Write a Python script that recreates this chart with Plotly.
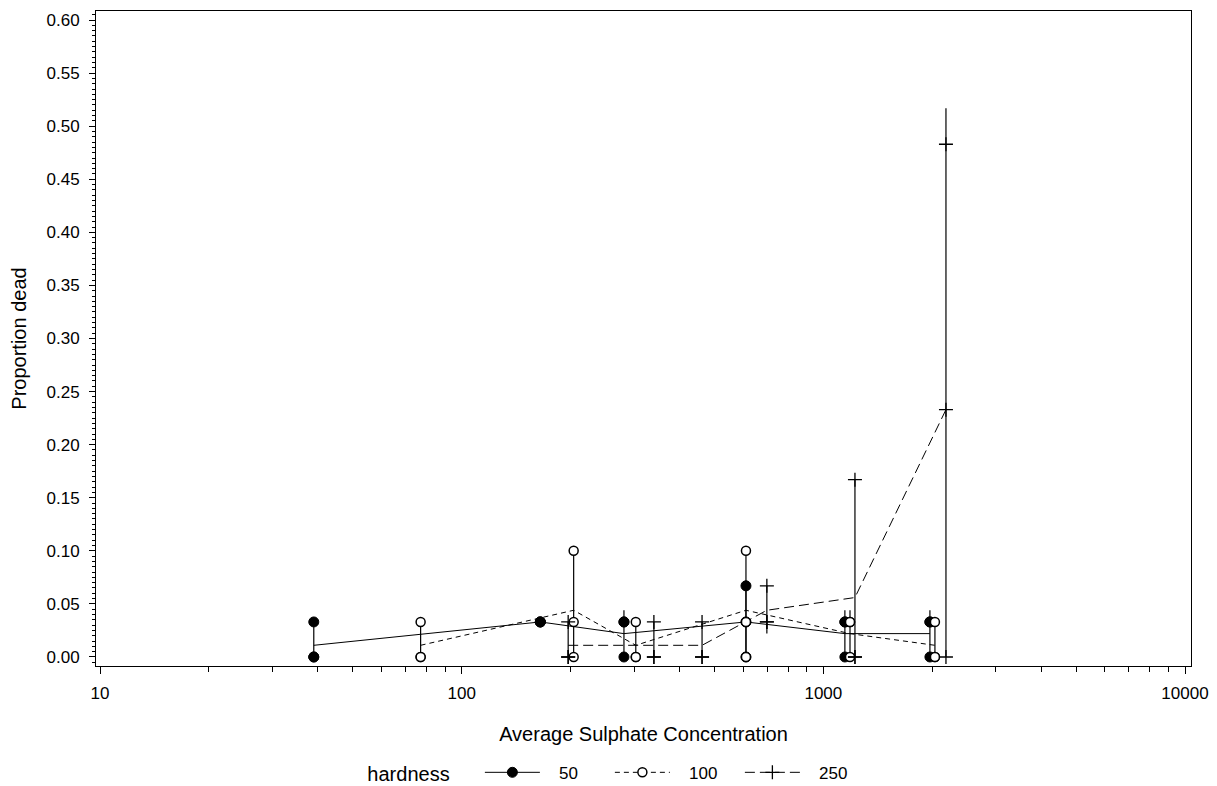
import plotly.graph_objects as go

# ---- data ----
hardness_levels = ["50", "100", "250"]

conc_50 = [39, 165, 281, 611, 1147, 1971]
points_50 = [[0.033, 0.0, 0.0], [0.033, 0.033, 0.033], [0.033, 0.033, 0.0],
             [0.067, 0.033, 0.0], [0.033, 0.033, 0.0], [0.033, 0.033, 0.0]]
mean_50 = [0.011, 0.033, 0.022, 0.033, 0.022, 0.022]
lo_50 = [0.0, 0.033, 0.0, 0.0, 0.0, 0.0]
hi_50 = [0.033, 0.033, 0.044, 0.072, 0.044, 0.044]

conc_100 = [77, 204, 303, 611, 1185, 2035]
points_100 = [[0.033, 0.0, 0.0], [0.1, 0.033, 0.0], [0.033, 0.0, 0.0],
              [0.1, 0.033, 0.0], [0.033, 0.033, 0.0], [0.033, 0.0, 0.0]]
mean_100 = [0.011, 0.044, 0.011, 0.044, 0.022, 0.011]
lo_100 = [0.0, 0.0, 0.0, 0.0, 0.0, 0.0]
hi_100 = [0.033, 0.103, 0.033, 0.103, 0.044, 0.033]

conc_250 = [197, 340, 462, 698, 1223, 2183]
points_250 = [[0.033, 0.0, 0.0], [0.033, 0.0, 0.0], [0.033, 0.0, 0.0],
              [0.067, 0.033, 0.033], [0.167, 0.0, 0.0], [0.483, 0.233, 0.0]]
mean_250 = [0.011, 0.011, 0.011, 0.044, 0.056, 0.233]
lo_250 = [0.0, 0.0, 0.0, 0.022, 0.0, 0.0]
hi_250 = [0.033, 0.033, 0.033, 0.067, 0.167, 0.517]

y_ticks = [0.00, 0.05, 0.10, 0.15, 0.20, 0.25, 0.30, 0.35, 0.40, 0.45, 0.50, 0.55, 0.60]
x_ticks = [10, 100, 1000, 10000]
x_minor = [m * d for d in (10, 100, 1000) for m in range(2, 10)]

FONT = "Arial, Liberation Sans, sans-serif"
FS = 17

groups = [
    (hardness_levels[0], conc_50, points_50, mean_50, lo_50, hi_50,
     dict(symbol="circle", size=10, color="black", line=dict(color="black", width=1)), "solid"),
    (hardness_levels[1], conc_100, points_100, mean_100, lo_100, hi_100,
     dict(symbol="circle", size=9, color="white", line=dict(color="black", width=1.5)), "5px,4px"),
    (hardness_levels[2], conc_250, points_250, mean_250, lo_250, hi_250,
     dict(symbol="cross-thin", size=10, color="black", line=dict(color="black", width=1.3)), "10px,5px"),
]

fig = go.Figure()
for name, conc, pts, mean, lo, hi, mk, dash in groups:
    fig.add_trace(go.Scatter(
        x=conc, y=mean, mode="lines",
        line=dict(color="black", width=1, dash=dash),
        error_y=dict(type="data", symmetric=False,
                     array=[h - m for h, m in zip(hi, mean)],
                     arrayminus=[m - l for m, l in zip(mean, lo)],
                     width=0, thickness=1.2, color="black"),
        showlegend=False, hoverinfo="skip"))
for name, conc, pts, mean, lo, hi, mk, dash in groups:
    xs, ys = [], []
    for c, vals in zip(conc, pts):
        for v in vals:
            xs.append(c)
            ys.append(v)
    fig.add_trace(go.Scatter(x=xs, y=ys, mode="markers", marker=mk,
                             showlegend=False))
    fig.add_trace(go.Scatter(x=[None], y=[None], mode="lines+markers",
                             name="   " + name,
                             marker=mk, line=dict(color="black", width=1, dash=dash)))

fig.update_layout(
    width=1217, height=786, autosize=False,
    margin=dict(l=96, r=26, t=11, b=120, autoexpand=False),
    plot_bgcolor="white", paper_bgcolor="white",
    font=dict(family=FONT, size=FS, color="black"),
    legend=dict(orientation="h", x=0.246, xanchor="left", y=-0.163, yanchor="middle",
                title=dict(text="hardness    ", side="left"),
                font=dict(size=FS), itemwidth=55,
                entrywidth=60, entrywidthmode="pixels"),
    xaxis=dict(type="log", range=[0.9889, 4.0166],
               tickvals=x_ticks, ticktext=[str(v) for v in x_ticks],
               ticks="outside", ticklen=7, tickwidth=1, tickcolor="black",
               minor=dict(tickvals=x_minor, ticks="outside", ticklen=5,
                          tickwidth=1, tickcolor="black", showgrid=False),
               showline=True, linecolor="black", linewidth=1, mirror=True,
               showgrid=False, zeroline=False, ticklabelstandoff=5,
               title=dict(text="Average Sulphate Concentration", standoff=24)),
    yaxis=dict(range=[-0.0085, 0.6085], tickvals=y_ticks,
               tickformat=".2f",
               ticks="outside", ticklen=6, tickwidth=1, tickcolor="black",
               minor=dict(dtick=0.005, tick0=0, ticks="outside", ticklen=3,
                          tickwidth=1, tickcolor="black", showgrid=False),
               showline=True, linecolor="black", linewidth=1, mirror=True,
               showgrid=False, zeroline=False, ticklabelstandoff=6,
               title=dict(text="Proportion dead", standoff=14)),
)

fig.write_html("out.html")
